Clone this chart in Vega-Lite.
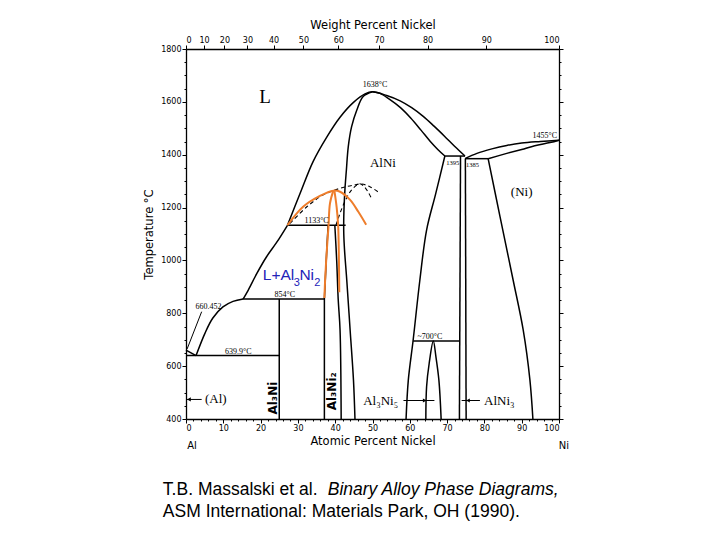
{
  "$schema": "https://vega.github.io/schema/vega-lite/v6.json",
  "width": 373,
  "height": 370,
  "autosize": "none",
  "padding": {"left": 186, "top": 49, "right": 161, "bottom": 121},
  "background": "white",
  "config": {
    "view": {"stroke": null},
    "axis": {"grid": false, "domainColor": "black", "tickColor": "black", "labelColor": "black", "titleColor": "black", "labelFont": "DejaVu Sans", "titleFont": "DejaVu Sans", "titleFontWeight": "normal", "domainWidth": 1.3}
  },
  "datasets": {
    "solid": [
      {"seg": "liq_a", "i": 0, "a": 0, "t": 660.452}, {"seg": "liq_a", "i": 1, "a": 2.7, "t": 639.9},
      {"seg": "liq_b", "i": 0, "a": 2.7, "t": 639.9}, {"seg": "liq_b", "i": 1, "a": 5.1, "t": 725}, {"seg": "liq_b", "i": 2, "a": 7.2, "t": 782}, {"seg": "liq_b", "i": 3, "a": 9.9, "t": 824}, {"seg": "liq_b", "i": 4, "a": 12.6, "t": 845}, {"seg": "liq_b", "i": 5, "a": 15.3, "t": 854},
      {"seg": "liq_c", "i": 0, "a": 15.3, "t": 854}, {"seg": "liq_c", "i": 1, "a": 16.7, "t": 888}, {"seg": "liq_c", "i": 2, "a": 19.0, "t": 951}, {"seg": "liq_c", "i": 3, "a": 21.6, "t": 1014}, {"seg": "liq_c", "i": 4, "a": 24.3, "t": 1068}, {"seg": "liq_c", "i": 5, "a": 27.2, "t": 1133},
      {"seg": "liq_d", "i": 0, "a": 27.2, "t": 1133}, {"seg": "liq_d", "i": 1, "a": 30.6, "t": 1254}, {"seg": "liq_d", "i": 2, "a": 34.1, "t": 1375}, {"seg": "liq_d", "i": 3, "a": 37.7, "t": 1466}, {"seg": "liq_d", "i": 4, "a": 41.3, "t": 1542}, {"seg": "liq_d", "i": 5, "a": 44.9, "t": 1598}, {"seg": "liq_d", "i": 6, "a": 48.0, "t": 1630}, {"seg": "liq_d", "i": 7, "a": 50, "t": 1638}, {"seg": "liq_d", "i": 8, "a": 53.8, "t": 1624}, {"seg": "liq_d", "i": 9, "a": 57.4, "t": 1604}, {"seg": "liq_d", "i": 10, "a": 60.5, "t": 1578}, {"seg": "liq_d", "i": 11, "a": 63.6, "t": 1545}, {"seg": "liq_d", "i": 12, "a": 66.5, "t": 1508}, {"seg": "liq_d", "i": 13, "a": 69.3, "t": 1470}, {"seg": "liq_d", "i": 14, "a": 72, "t": 1432}, {"seg": "liq_d", "i": 15, "a": 74.8, "t": 1395},
      {"seg": "alni_l", "i": 0, "a": 50, "t": 1638}, {"seg": "alni_l", "i": 1, "a": 47.5, "t": 1620}, {"seg": "alni_l", "i": 2, "a": 45.8, "t": 1569}, {"seg": "alni_l", "i": 3, "a": 44.4, "t": 1506}, {"seg": "alni_l", "i": 4, "a": 43.5, "t": 1430}, {"seg": "alni_l", "i": 5, "a": 43.0, "t": 1342}, {"seg": "alni_l", "i": 6, "a": 42.6, "t": 1266}, {"seg": "alni_l", "i": 7, "a": 42.3, "t": 1165}, {"seg": "alni_l", "i": 8, "a": 42.3, "t": 1100}, {"seg": "alni_l", "i": 9, "a": 42.5, "t": 1040}, {"seg": "alni_l", "i": 10, "a": 43.1, "t": 926}, {"seg": "alni_l", "i": 11, "a": 44.0, "t": 737}, {"seg": "alni_l", "i": 12, "a": 44.9, "t": 547}, {"seg": "alni_l", "i": 13, "a": 45.3, "t": 400},
      {"seg": "alni_ra", "i": 0, "a": 50, "t": 1638}, {"seg": "alni_ra", "i": 1, "a": 52, "t": 1632}, {"seg": "alni_ra", "i": 2, "a": 54.5, "t": 1610}, {"seg": "alni_ra", "i": 3, "a": 57.5, "t": 1578}, {"seg": "alni_ra", "i": 4, "a": 60.3, "t": 1538}, {"seg": "alni_ra", "i": 5, "a": 63, "t": 1493}, {"seg": "alni_ra", "i": 6, "a": 65.5, "t": 1450}, {"seg": "alni_ra", "i": 7, "a": 67.5, "t": 1420}, {"seg": "alni_ra", "i": 8, "a": 69.4, "t": 1395},
      {"seg": "alni_rb", "i": 0, "a": 69.4, "t": 1395}, {"seg": "alni_rb", "i": 1, "a": 66.9, "t": 1250}, {"seg": "alni_rb", "i": 2, "a": 64.5, "t": 1115}, {"seg": "alni_rb", "i": 3, "a": 62.7, "t": 926}, {"seg": "alni_rb", "i": 4, "a": 60.9, "t": 699}, {"seg": "alni_rb", "i": 5, "a": 59.6, "t": 547}, {"seg": "alni_rb", "i": 6, "a": 59.0, "t": 400},
      {"seg": "p1395", "i": 0, "a": 69.4, "t": 1395}, {"seg": "p1395", "i": 1, "a": 74.8, "t": 1395},
      {"seg": "alni3_l", "i": 0, "a": 73.6, "t": 1395}, {"seg": "alni3_l", "i": 1, "a": 73.3, "t": 400},
      {"seg": "alni3_r", "i": 0, "a": 74.9, "t": 1385}, {"seg": "alni3_r", "i": 1, "a": 75.1, "t": 400},
      {"seg": "e1385", "i": 0, "a": 74.8, "t": 1385}, {"seg": "e1385", "i": 1, "a": 81.0, "t": 1385},
      {"seg": "ni_solvus", "i": 0, "a": 81.0, "t": 1385}, {"seg": "ni_solvus", "i": 1, "a": 84.2, "t": 1165}, {"seg": "ni_solvus", "i": 2, "a": 87.7, "t": 926}, {"seg": "ni_solvus", "i": 3, "a": 90.4, "t": 737}, {"seg": "ni_solvus", "i": 4, "a": 92.2, "t": 548}, {"seg": "ni_solvus", "i": 5, "a": 93.0, "t": 400},
      {"seg": "ni_liq", "i": 0, "a": 74.8, "t": 1385}, {"seg": "ni_liq", "i": 1, "a": 78, "t": 1405}, {"seg": "ni_liq", "i": 2, "a": 82, "t": 1422}, {"seg": "ni_liq", "i": 3, "a": 86, "t": 1435}, {"seg": "ni_liq", "i": 4, "a": 90, "t": 1444}, {"seg": "ni_liq", "i": 5, "a": 95, "t": 1450}, {"seg": "ni_liq", "i": 6, "a": 100, "t": 1455},
      {"seg": "ni_sol", "i": 0, "a": 81, "t": 1385}, {"seg": "ni_sol", "i": 1, "a": 86, "t": 1405}, {"seg": "ni_sol", "i": 2, "a": 90, "t": 1420}, {"seg": "ni_sol", "i": 3, "a": 93.5, "t": 1434}, {"seg": "ni_sol", "i": 4, "a": 97.6, "t": 1446}, {"seg": "ni_sol", "i": 5, "a": 100, "t": 1455},
      {"seg": "l700", "i": 0, "a": 60.9, "t": 695}, {"seg": "l700", "i": 1, "a": 73.3, "t": 695},
      {"seg": "al3ni5", "i": 0, "a": 64.3, "t": 400}, {"seg": "al3ni5", "i": 1, "a": 64.5, "t": 522}, {"seg": "al3ni5", "i": 2, "a": 65.2, "t": 611}, {"seg": "al3ni5", "i": 3, "a": 66.3, "t": 695}, {"seg": "al3ni5", "i": 4, "a": 67.0, "t": 636}, {"seg": "al3ni5", "i": 5, "a": 67.8, "t": 547}, {"seg": "al3ni5", "i": 6, "a": 68.4, "t": 400},
      {"seg": "e640", "i": 0, "a": 0, "t": 639.9}, {"seg": "e640", "i": 1, "a": 25, "t": 639.9},
      {"seg": "al3ni", "i": 0, "a": 25, "t": 400}, {"seg": "al3ni", "i": 1, "a": 25, "t": 854},
      {"seg": "p854", "i": 0, "a": 15.3, "t": 854}, {"seg": "p854", "i": 1, "a": 37.2, "t": 854},
      {"seg": "al3ni2_la", "i": 0, "a": 37.1, "t": 400}, {"seg": "al3ni2_la", "i": 1, "a": 37.1, "t": 854},
      {"seg": "al3ni2_lb", "i": 0, "a": 37.1, "t": 854}, {"seg": "al3ni2_lb", "i": 1, "a": 37.6, "t": 1000}, {"seg": "al3ni2_lb", "i": 2, "a": 38.1, "t": 1133},
      {"seg": "al3ni2_r", "i": 0, "a": 41.6, "t": 400}, {"seg": "al3ni2_r", "i": 1, "a": 41.3, "t": 737}, {"seg": "al3ni2_r", "i": 2, "a": 40.8, "t": 854}, {"seg": "al3ni2_r", "i": 3, "a": 40.4, "t": 1000}, {"seg": "al3ni2_r", "i": 4, "a": 39.9, "t": 1133},
      {"seg": "p1133", "i": 0, "a": 27.2, "t": 1133}, {"seg": "p1133", "i": 1, "a": 42.8, "t": 1133}
    ],
    "leaders": [
      {"seg": "lead660", "i": 0, "a": 4.2, "t": 806}, {"seg": "lead660", "i": 1, "a": 0.3, "t": 665},
      {"seg": "arr_al", "i": 0, "a": 0, "t": 474}, {"seg": "arr_al", "i": 1, "a": 4.2, "t": 474},
      {"seg": "arr_al3ni5", "i": 0, "a": 58.3, "t": 470}, {"seg": "arr_al3ni5", "i": 1, "a": 66.6, "t": 470},
      {"seg": "arr_alni3", "i": 0, "a": 73.9, "t": 470}, {"seg": "arr_alni3", "i": 1, "a": 78.8, "t": 470}
    ],
    "heads_left": [
      {"a": 0.8, "t": 474}, {"a": 75.6, "t": 470}
    ],
    "heads_right": [
      {"a": 64.0, "t": 470}
    ],
    "dashed": [
      {"seg": "d1", "i": 0, "a": 27.9, "t": 1140}, {"seg": "d1", "i": 1, "a": 32.4, "t": 1203}, {"seg": "d1", "i": 2, "a": 36.8, "t": 1248}, {"seg": "d1", "i": 3, "a": 41.3, "t": 1273}, {"seg": "d1", "i": 4, "a": 44.9, "t": 1285}, {"seg": "d1", "i": 5, "a": 47.1, "t": 1289}, {"seg": "d1", "i": 6, "a": 49.3, "t": 1279}, {"seg": "d1", "i": 7, "a": 52, "t": 1254},
      {"seg": "d2", "i": 0, "a": 40.2, "t": 1133}, {"seg": "d2", "i": 1, "a": 41.2, "t": 1175}, {"seg": "d2", "i": 2, "a": 42.5, "t": 1220}, {"seg": "d2", "i": 3, "a": 44.3, "t": 1265}, {"seg": "d2", "i": 4, "a": 46.6, "t": 1290}, {"seg": "d2", "i": 5, "a": 48.2, "t": 1272}, {"seg": "d2", "i": 6, "a": 49.6, "t": 1238}
    ],
    "orange": [
      {"seg": "o1", "i": 0, "a": 27.2, "t": 1133}, {"seg": "o1", "i": 1, "a": 31.4, "t": 1203}, {"seg": "o1", "i": 2, "a": 35.9, "t": 1244}, {"seg": "o1", "i": 3, "a": 39.5, "t": 1264}, {"seg": "o1", "i": 4, "a": 41.3, "t": 1260}, {"seg": "o1", "i": 5, "a": 44.0, "t": 1229}, {"seg": "o1", "i": 6, "a": 46.2, "t": 1184}, {"seg": "o1", "i": 7, "a": 48.3, "t": 1135},
      {"seg": "o2", "i": 0, "a": 39.5, "t": 1264}, {"seg": "o2", "i": 1, "a": 38.6, "t": 1216}, {"seg": "o2", "i": 2, "a": 38.2, "t": 1128}, {"seg": "o2", "i": 3, "a": 37.7, "t": 1027}, {"seg": "o2", "i": 4, "a": 37.3, "t": 926}, {"seg": "o2", "i": 5, "a": 37.1, "t": 858},
      {"seg": "o3", "i": 0, "a": 39.8, "t": 1262}, {"seg": "o3", "i": 1, "a": 40.4, "t": 1200}, {"seg": "o3", "i": 2, "a": 40.8, "t": 1130}, {"seg": "o3", "i": 3, "a": 41.0, "t": 1000}, {"seg": "o3", "i": 4, "a": 41.1, "t": 880}
    ],
    "regions": [
      {"label": "AlNi", "a": 52.8, "t": 1369},
      {"label": "(Ni)", "a": 90, "t": 1259},
      {"label": "(Al)", "a": 8.0, "t": 474},
      {"label": "Al₃Ni₅", "a": 52.2, "t": 470},
      {"label": "AlNi₃", "a": 84.0, "t": 470}
    ],
    "big": [
      {"label": "L", "a": 21.2, "t": 1618}
    ],
    "vertical": [
      {"label": "Al₃Ni", "a": 23.4, "t": 479},
      {"label": "Al₃Ni₂", "a": 39.1, "t": 505}
    ],
    "temps": [
      {"label": "1638°C", "a": 50.7, "t": 1662},
      {"label": "1455°C", "a": 96.2, "t": 1469},
      {"label": "1133°C", "a": 35.0, "t": 1148},
      {"label": "854°C", "a": 26.5, "t": 869},
      {"label": "660.452", "a": 6.0, "t": 825},
      {"label": "639.9°C", "a": 14.0, "t": 653},
      {"label": "~700°C", "a": 65.4, "t": 712}
    ],
    "tiny": [
      {"label": "1395", "a": 71.5, "t": 1367},
      {"label": "1385", "a": 76.8, "t": 1361}
    ],
    "blue_main": [
      {"label": "L+Al", "a": 20.6, "t": 926},
      {"label": "Ni", "a": 30.4, "t": 926}
    ],
    "blue_sub": [
      {"label": "3", "a": 28.9, "t": 905},
      {"label": "2", "a": 34.4, "t": 905}
    ],
    "ends": [
      {"label": "Al", "a": 1.6, "t": 298},
      {"label": "Ni", "a": 101.3, "t": 298}
    ],
    "caption": [
      {"label": "T.B. Massalski et al.", "a": -6.2, "t": 131},
      {"label": "ASM International: Materials Park, OH (1990).", "a": -6.2, "t": 48}
    ],
    "caption_italic": [
      {"label": "Binary Alloy Phase Diagrams,", "a": 38.0, "t": 131}
    ]
  },
  "layer": [
    {
      "data": {"name": "solid"},
      "mark": {"type": "line", "color": "black", "strokeWidth": 1.5, "interpolate": "catmull-rom"},
      "encoding": {
        "x": {"field": "a", "type": "quantitative", "scale": {"domain": [0, 100], "nice": false, "zero": false},
          "axis": {"orient": "bottom", "values": [0,2,4,6,8,10,12,14,16,18,20,22,24,26,28,30,32,34,36,38,40,42,44,46,48,50,52,54,56,58,60,62,64,66,68,70,72,74,76,78,80,82,84,86,88,90,92,94,96,98,100],
            "labelExpr": "datum.value % 10 === 0 ? format(datum.value, 'd') : ''", "tickSize": {"condition": {"test": "datum.value % 10 === 0", "value": 4}, "value": 2},
            "labelFontSize": 8, "labelPadding": 1, "title": "Atomic Percent Nickel", "titleFontSize": 11.5, "titlePadding": 3}},
        "y": {"field": "t", "type": "quantitative", "scale": {"domain": [400, 1800], "nice": false, "zero": false},
          "axis": {"orient": "left", "values": [400,450,500,550,600,650,700,750,800,850,900,950,1000,1050,1100,1150,1200,1250,1300,1350,1400,1450,1500,1550,1600,1650,1700,1750,1800],
            "labelExpr": "datum.value % 200 === 0 ? format(datum.value, 'd') : ''", "tickSize": {"condition": {"test": "datum.value % 200 === 0", "value": 4}, "value": 2},
            "labelFontSize": 8, "labelPadding": 1, "title": "Temperature °C", "titleFontSize": 11.5, "titlePadding": 6}},
        "detail": {"field": "seg"},
        "order": {"field": "i", "type": "quantitative"}
      }
    },
    {
      "data": {"name": "solid"},
      "mark": {"type": "line", "opacity": 0},
      "encoding": {
        "x": {"field": "a", "type": "quantitative", "scale": {"domain": [0, 100], "nice": false, "zero": false},
          "axis": {"orient": "top", "values": [0, 4.86, 10.31, 16.46, 23.46, 31.49, 40.81, 51.75, 64.77, 80.53, 100],
            "labelExpr": "format(100*58.69*datum.value/(58.69*datum.value+26.98*(100-datum.value)), '.0f')",
            "tickSize": 4, "labelFontSize": 8, "labelPadding": 1, "title": "Weight Percent Nickel", "titleFontSize": 11.5, "titlePadding": 6}},
        "y": {"field": "t", "type": "quantitative", "scale": {"domain": [400, 1800], "nice": false, "zero": false},
          "axis": {"orient": "right", "values": [400,450,500,550,600,650,700,750,800,850,900,950,1000,1050,1100,1150,1200,1250,1300,1350,1400,1450,1500,1550,1600,1650,1700,1750,1800],
            "labels": false, "title": null, "tickSize": {"condition": {"test": "datum.value % 200 === 0", "value": 4}, "value": 2}}},
        "detail": {"field": "seg"}
      }
    },
    {
      "data": {"name": "dashed"},
      "mark": {"type": "line", "color": "black", "strokeWidth": 1.1, "strokeDash": [4, 3], "interpolate": "catmull-rom"},
      "encoding": {
        "x": {"field": "a", "type": "quantitative", "axis": null},
        "y": {"field": "t", "type": "quantitative", "axis": null},
        "detail": {"field": "seg"},
        "order": {"field": "i", "type": "quantitative"}
      }
    },
    {
      "data": {"name": "orange"},
      "mark": {"type": "line", "color": "#EE7D2B", "strokeWidth": 2, "interpolate": "catmull-rom"},
      "encoding": {
        "x": {"field": "a", "type": "quantitative", "axis": null},
        "y": {"field": "t", "type": "quantitative", "axis": null},
        "detail": {"field": "seg"},
        "order": {"field": "i", "type": "quantitative"}
      }
    },
    {
      "data": {"name": "leaders"},
      "mark": {"type": "line", "color": "black", "strokeWidth": 1},
      "encoding": {
        "x": {"field": "a", "type": "quantitative", "axis": null},
        "y": {"field": "t", "type": "quantitative", "axis": null},
        "detail": {"field": "seg"},
        "order": {"field": "i", "type": "quantitative"}
      }
    },
    {
      "data": {"name": "heads_left"},
      "mark": {"type": "point", "shape": "triangle-left", "filled": true, "color": "black", "size": 18, "opacity": 1},
      "encoding": {
        "x": {"field": "a", "type": "quantitative", "axis": null},
        "y": {"field": "t", "type": "quantitative", "axis": null}
      }
    },
    {
      "data": {"name": "heads_right"},
      "mark": {"type": "point", "shape": "triangle-right", "filled": true, "color": "black", "size": 18, "opacity": 1},
      "encoding": {
        "x": {"field": "a", "type": "quantitative", "axis": null},
        "y": {"field": "t", "type": "quantitative", "axis": null}
      }
    },
    {
      "data": {"name": "regions"},
      "mark": {"type": "text", "font": "Liberation Serif", "fontSize": 13, "color": "black"},
      "encoding": {
        "x": {"field": "a", "type": "quantitative", "axis": null},
        "y": {"field": "t", "type": "quantitative", "axis": null},
        "text": {"field": "label"}
      }
    },
    {
      "data": {"name": "big"},
      "mark": {"type": "text", "font": "Liberation Serif", "fontSize": 19, "color": "black"},
      "encoding": {
        "x": {"field": "a", "type": "quantitative", "axis": null},
        "y": {"field": "t", "type": "quantitative", "axis": null},
        "text": {"field": "label"}
      }
    },
    {
      "data": {"name": "vertical"},
      "mark": {"type": "text", "font": "DejaVu Sans", "fontSize": 12, "fontWeight": "bold", "angle": 270, "color": "black"},
      "encoding": {
        "x": {"field": "a", "type": "quantitative", "axis": null},
        "y": {"field": "t", "type": "quantitative", "axis": null},
        "text": {"field": "label"}
      }
    },
    {
      "data": {"name": "temps"},
      "mark": {"type": "text", "font": "Liberation Serif", "fontSize": 8, "color": "black"},
      "encoding": {
        "x": {"field": "a", "type": "quantitative", "axis": null},
        "y": {"field": "t", "type": "quantitative", "axis": null},
        "text": {"field": "label"}
      }
    },
    {
      "data": {"name": "tiny"},
      "mark": {"type": "text", "font": "Liberation Serif", "fontSize": 6.5, "color": "black"},
      "encoding": {
        "x": {"field": "a", "type": "quantitative", "axis": null},
        "y": {"field": "t", "type": "quantitative", "axis": null},
        "text": {"field": "label"}
      }
    },
    {
      "data": {"name": "blue_main"},
      "mark": {"type": "text", "font": "Liberation Sans", "fontSize": 15.5, "align": "left", "baseline": "alphabetic", "color": "#2323B8"},
      "encoding": {
        "x": {"field": "a", "type": "quantitative", "axis": null},
        "y": {"field": "t", "type": "quantitative", "axis": null},
        "text": {"field": "label"}
      }
    },
    {
      "data": {"name": "blue_sub"},
      "mark": {"type": "text", "font": "Liberation Sans", "fontSize": 11, "align": "left", "baseline": "alphabetic", "color": "#2323B8"},
      "encoding": {
        "x": {"field": "a", "type": "quantitative", "axis": null},
        "y": {"field": "t", "type": "quantitative", "axis": null},
        "text": {"field": "label"}
      }
    },
    {
      "data": {"name": "ends"},
      "mark": {"type": "text", "font": "DejaVu Sans", "fontSize": 10, "color": "black"},
      "encoding": {
        "x": {"field": "a", "type": "quantitative", "axis": null},
        "y": {"field": "t", "type": "quantitative", "axis": null},
        "text": {"field": "label"}
      }
    },
    {
      "data": {"name": "caption"},
      "mark": {"type": "text", "font": "Liberation Sans", "fontSize": 17.5, "align": "left", "baseline": "middle", "color": "black"},
      "encoding": {
        "x": {"field": "a", "type": "quantitative", "axis": null},
        "y": {"field": "t", "type": "quantitative", "axis": null},
        "text": {"field": "label"}
      }
    },
    {
      "data": {"name": "caption_italic"},
      "mark": {"type": "text", "font": "Liberation Sans", "fontSize": 17.5, "fontStyle": "italic", "align": "left", "baseline": "middle", "color": "black"},
      "encoding": {
        "x": {"field": "a", "type": "quantitative", "axis": null},
        "y": {"field": "t", "type": "quantitative", "axis": null},
        "text": {"field": "label"}
      }
    }
  ],
  "resolve": {"scale": {"x": "shared", "y": "shared"}, "axis": {"x": "independent", "y": "independent"}}
}
